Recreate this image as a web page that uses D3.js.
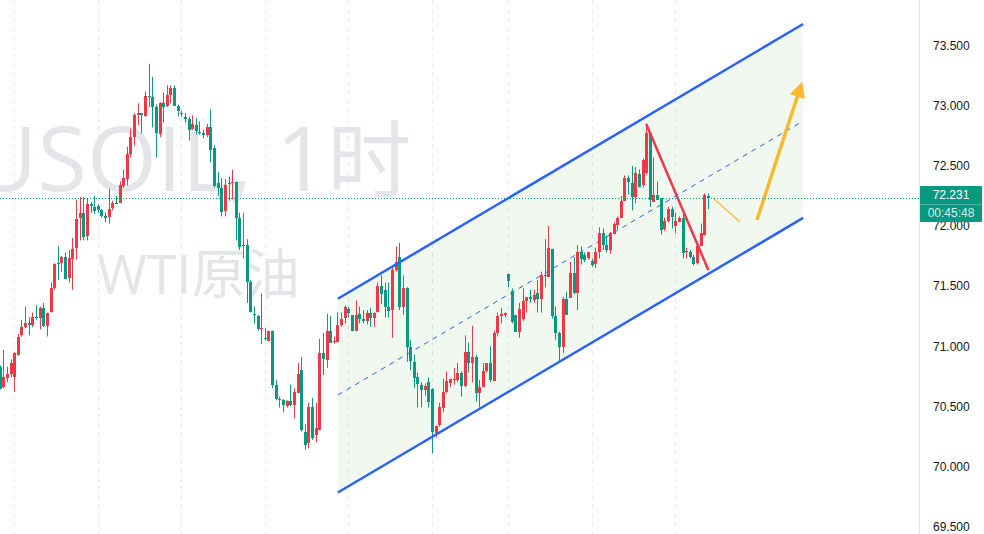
<!DOCTYPE html>
<html>
<head>
<meta charset="utf-8">
<script src="https://cdn.jsdelivr.net/npm/d3@7"></script>
<style>
  body { margin: 0; background: #fff; }
  svg { display: block; }
</style>
</head>
<body>
<script>
// USOIL 1h candles (red = up, green = down)
let opens = [
  70.83,70.66,70.74,70.77,70.74,70.93,71.09,71.16,71.19,71.17,
  71.24,71.24,71.32,71.17,71.28,71.48,71.69,71.69,71.74,71.56,
  71.73,71.82,72.07,72.11,71.91,72.18,72.16,72.17,72.13,72.08,
  72.07,72.15,72.19,72.19,72.33,72.39,72.60,72.74,72.92,72.94,
  72.91,73.08,73.07,72.99,72.76,73.02,73.00,73.09,73.15,73.00,
  72.94,72.91,72.89,72.81,72.84,72.78,72.77,72.75,72.82,72.65,
  72.36,72.32,72.12,72.35,72.36,72.37,72.07,71.83,71.84,71.53,
  71.27,71.25,71.14,71.07,71.05,71.13,70.68,70.56,70.55,70.50,
  70.54,70.51,70.61,70.80,70.29,70.19,70.49,70.26,70.30,70.94,
  70.89,71.13,71.03,71.04,71.18,71.24,71.31,71.26,71.13,71.27,
  71.23,71.21,71.28,71.24,71.28,71.50,71.47,71.33,71.30,71.63,
  71.74,71.32,71.48,70.99,70.87,70.74,70.68,70.64,70.70,70.64,
  70.28,70.34,70.49,70.62,70.70,70.72,70.72,70.78,70.67,70.95,
  70.86,70.91,70.61,70.66,70.79,70.86,70.71,71.11,71.25,71.26,
  71.60,71.46,71.26,71.12,71.23,71.38,71.41,71.39,71.44,71.39,
  71.58,71.58,71.81,71.25,71.11,70.99,71.39,71.40,71.61,71.44,
  71.78,71.76,71.73,71.71,71.68,71.78,71.94,71.84,71.80,71.94,
  72.01,72.07,72.21,72.40,72.36,72.24,72.43,72.34,72.44,72.77,
  72.20,72.26,72.23,71.97,72.04,72.14,72.00,72.04,72.07,71.78,
  71.78,71.74,71.69,71.83,71.93,72.25
];
let highs = [
  70.84,70.97,70.83,70.89,70.95,71.10,71.22,71.33,71.24,71.28,
  71.34,71.33,71.36,71.28,71.53,71.69,71.83,71.75,71.78,71.80,
  71.90,72.22,72.24,72.24,72.23,72.20,72.25,72.18,72.14,72.11,
  72.31,72.21,72.25,72.37,72.47,72.66,72.81,72.94,73.02,72.94,
  73.12,73.35,73.24,73.01,73.03,73.11,73.17,73.17,73.17,73.01,
  72.96,72.94,72.91,72.92,72.90,72.87,72.80,72.85,72.97,72.67,
  72.45,72.40,72.39,72.41,72.47,72.37,72.11,72.11,71.89,71.55,
  71.33,71.26,71.44,71.15,71.13,71.13,70.72,70.58,70.56,70.55,
  70.68,70.65,70.86,70.91,70.35,70.53,70.57,70.53,71.06,71.11,
  71.27,71.25,71.08,71.28,71.28,71.34,71.33,71.26,71.38,71.33,
  71.30,71.30,71.32,71.28,71.53,71.59,71.53,71.53,71.66,71.83,
  71.86,71.59,71.49,71.05,70.93,70.78,70.70,70.69,70.74,70.65,
  70.34,70.53,70.73,70.79,70.73,70.82,70.86,70.79,71.09,71.03,
  71.17,70.93,70.72,70.86,70.86,71.00,71.13,71.28,71.32,71.28,
  71.60,71.48,71.26,71.36,71.48,71.41,71.47,71.47,71.55,71.62,
  71.89,72.00,71.81,71.33,71.12,71.41,71.45,71.70,71.74,71.84,
  71.83,71.78,71.78,71.73,71.82,71.99,71.98,71.92,71.95,72.03,
  72.08,72.25,72.42,72.42,72.50,72.49,72.47,72.56,72.85,72.78,
  72.57,72.37,72.23,72.07,72.16,72.16,72.11,72.08,72.11,71.82,
  71.80,71.76,71.84,72.02,72.27,72.27
];
let lows = [
  70.64,70.65,70.70,70.74,70.62,70.92,71.08,71.15,71.09,71.16,
  71.22,71.14,71.16,71.08,71.28,71.47,71.55,71.62,71.56,71.53,
  71.47,71.72,71.88,71.88,71.88,72.11,72.10,72.11,72.07,72.03,
  72.02,72.13,72.18,72.19,72.32,72.34,72.57,72.67,72.84,72.77,
  72.91,72.99,72.82,72.57,72.74,72.86,72.99,73.02,73.00,72.91,
  72.91,72.86,72.71,72.80,72.76,72.76,72.73,72.74,72.53,72.32,
  72.25,72.08,72.08,72.21,72.22,71.88,71.80,71.73,71.36,71.28,
  71.19,71.13,71.02,71.05,71.04,70.65,70.55,70.49,70.45,70.49,
  70.50,70.40,70.61,70.29,70.14,70.15,70.22,70.20,70.30,70.76,
  70.82,71.03,71.02,71.03,71.16,71.19,71.24,71.13,71.13,71.19,
  71.19,71.18,71.16,71.16,71.28,71.35,71.24,71.24,71.07,71.62,
  71.30,71.26,70.87,70.80,70.65,70.49,70.49,70.59,70.49,70.11,
  70.24,70.33,70.45,70.61,70.66,70.68,70.70,70.58,70.66,70.78,
  70.70,70.54,70.49,70.66,70.78,70.70,70.71,71.08,71.19,71.24,
  71.49,71.19,71.12,71.07,71.21,71.28,71.36,71.36,71.28,71.28,
  71.49,71.58,71.23,71.05,70.87,70.94,71.26,71.40,71.43,71.30,
  71.68,71.70,71.72,71.66,71.65,71.73,71.80,71.78,71.77,71.93,
  71.97,72.07,72.21,72.26,72.13,72.19,72.32,72.32,72.43,72.16,
  72.20,72.22,71.93,71.96,72.03,71.98,71.94,72.03,71.73,71.73,
  71.73,71.67,71.68,71.83,71.92,72.14
];
let closes = [
  70.65,70.74,70.77,70.86,70.94,71.08,71.16,71.19,71.17,71.24,
  71.23,71.32,71.17,71.28,71.48,71.68,71.68,71.74,71.56,71.73,
  71.81,72.06,72.11,71.91,72.18,72.16,72.13,72.14,72.08,72.06,
  72.14,72.19,72.18,72.34,72.40,72.60,72.74,72.92,72.94,72.92,
  73.08,73.07,72.99,72.77,73.02,72.99,73.09,73.15,73.00,72.96,
  72.93,72.89,72.80,72.85,72.79,72.77,72.75,72.82,72.63,72.33,
  72.32,72.12,72.34,72.36,72.37,72.07,71.83,71.84,71.53,71.28,
  71.26,71.14,71.15,71.06,71.13,70.68,70.56,70.55,70.51,70.54,
  70.51,70.62,70.77,70.30,70.18,70.49,70.23,70.32,70.94,70.89,
  71.13,71.03,71.04,71.18,71.23,71.33,71.28,71.13,71.26,71.23,
  71.21,71.28,71.24,71.28,71.50,71.43,71.33,71.30,71.63,71.70,
  71.32,71.48,70.99,70.87,70.74,70.68,70.64,70.67,70.53,70.28,
  70.34,70.49,70.62,70.71,70.73,70.73,70.78,70.67,70.95,70.86,
  70.91,70.61,70.66,70.79,70.86,70.72,71.11,71.25,71.27,71.28,
  71.54,71.20,71.12,71.31,71.38,71.41,71.39,71.43,71.39,71.59,
  71.59,71.82,71.25,71.11,70.99,71.39,71.26,71.61,71.44,71.78,
  71.72,71.72,71.78,71.68,71.78,71.94,71.84,71.80,71.94,72.02,
  72.07,72.21,72.40,72.37,72.24,72.44,72.32,72.55,72.77,72.21,
  72.26,72.22,71.96,72.04,72.14,72.07,72.04,72.07,71.78,71.79,
  71.74,71.68,71.83,71.94,72.26,72.231
];

let yTicks = [69.5, 70, 70.5, 71, 71.5, 72, 72.5, 73, 73.5];
let gridBars = [4, 27, 50, 73, 96, 119, 140, 163, 186];

// drawings, as [bar, price]
let channelUpper = [[93.1, 71.395], [221.2, 73.68]];
let channelLower = [[93.1, 69.783], [221.2, 72.067]];
let channelMid = [[93.1, 70.594], [221.2, 72.873]];
let redTrend = [[178, 72.849], [195.1, 71.634]];
let smallArrow = [[196.4, 72.233], [203.8, 72.033]];
let bigArrow = [[208.5, 72.05], [220.4, 73.15]];

let countdown = "00:45:48";

let width = 984;
let height = 534;
let paneW = 919;

let green = "#089981";
let red = "#f23645";
let blue = "#2962ff";

let x = d3.scaleLinear().domain([0.083, 253.1]).range([0, paneW]);
let y = d3.scaleLinear().domain([69.4376, 73.88]).range([height, 0]);

let candles = d3.range(opens.length).map(function(i) {
    return {i: i, o: opens[i], h: highs[i], l: lows[i], c: closes[i]};
});

let svg = d3.select("body")
    .append("svg")
    .attr("width", width)
    .attr("height", height);

let defs = svg.append("defs");
defs.append("clipPath").attr("id", "pane")
    .append("rect").attr("width", paneW).attr("height", height);
defs.append("marker")
    .attr("id", "head")
    .attr("viewBox", "0 0 10 10")
    .attr("refX", 6).attr("refY", 5)
    .attr("markerWidth", 4.5).attr("markerHeight", 4.5)
    .attr("orient", "auto")
    .append("path").attr("d", "M0,0L10,5L0,10Z").attr("fill", "#f9b92e");

let pane = svg.append("g").attr("clip-path", "url(#pane)");

//grid

pane.selectAll(".vgrid")
    .data(gridBars)
    .enter()
    .append("line")
    .attr("x1", d => Math.round(x(d)) + 0.5)
    .attr("x2", d => Math.round(x(d)) + 0.5)
    .attr("y1", 0)
    .attr("y2", height)
    .attr("stroke", "#e8eaee")
    .attr("stroke-dasharray", "5,4");

//watermark

let mark = pane.append("text")
    .attr("x", -28).attr("y", 191)
    .attr("font-family", "'Open Sans', 'Noto Sans', 'Noto Sans CJK SC', sans-serif")
    .attr("font-size", 90)
    .attr("fill", "#e4e5e8");
mark.append("tspan").text("USOIL, 1");
mark.append("tspan").attr("font-size", 84).attr("dx", 0).text("时");

pane.append("text")
    .attr("x", 97).attr("y", 294)
    .attr("text-anchor", "start")
    .attr("font-family", "'Open Sans', 'Noto Sans', 'Noto Sans CJK SC', sans-serif")
    .attr("font-size", 54)
    .attr("fill", "#e4e5e8")
    .text("WTI原油");

//channel

let pt = d => [x(d[0]), y(d[1])];
let band = channelUpper.map(pt).concat(channelLower.slice().reverse().map(pt));

pane.append("path")
    .attr("d", d3.line()(band) + "Z")
    .attr("fill", "rgba(76,175,80,0.085)");

pane.append("path")
    .attr("d", d3.line()(channelMid.map(pt)))
    .attr("stroke", blue)
    .attr("stroke-width", 1)
    .attr("stroke-dasharray", "5,5")
    .attr("fill", "none");

//candles

let cx = d => Math.round(x(d.i));
let col = d => d.c >= d.o ? red : green;

pane.selectAll(".wick")
    .data(candles)
    .enter()
    .append("line")
    .attr("x1", d => cx(d) + 0.5)
    .attr("x2", d => cx(d) + 0.5)
    .attr("y1", d => y(d.h))
    .attr("y2", d => y(d.l))
    .attr("stroke", col)
    .attr("stroke-width", 1);

pane.selectAll(".body")
    .data(candles)
    .enter()
    .append("rect")
    .attr("x", d => cx(d) - 1)
    .attr("width", 3)
    .attr("y", d => Math.round(y(Math.max(d.o, d.c))))
    .attr("height", d => Math.max(1, Math.round(Math.abs(y(d.o) - y(d.c)))))
    .attr("fill", col)
    .attr("shape-rendering", "crispEdges");

//channel borders

[channelUpper, channelLower].forEach(function(seg) {
    pane.append("path")
        .attr("d", d3.line()(seg.map(pt)))
        .attr("stroke", blue)
        .attr("stroke-width", 2.5)
        .attr("fill", "none");
});

//red trend line

pane.append("path")
    .attr("d", d3.line()(redTrend.map(pt)))
    .attr("stroke", red)
    .attr("stroke-width", 2.5)
    .attr("fill", "none");

//arrows

pane.append("path")
    .attr("d", d3.line()(smallArrow.map(pt)))
    .attr("stroke", "#f9b92e")
    .attr("stroke-width", 1.2)
    .attr("fill", "none");

pane.append("path")
    .attr("d", d3.line()(bigArrow.map(pt)))
    .attr("stroke", "#f9b92e")
    .attr("stroke-width", 3.5)
    .attr("fill", "none")
    .attr("marker-end", "url(#head)");

//last price line

let last = closes[closes.length - 1];

pane.append("line")
    .attr("x1", 0).attr("x2", paneW)
    .attr("y1", Math.round(y(last)) + 0.5)
    .attr("y2", Math.round(y(last)) + 0.5)
    .attr("stroke", green)
    .attr("stroke-dasharray", "1,2");

//price axis

svg.append("line")
    .attr("x1", paneW + 0.5).attr("x2", paneW + 0.5)
    .attr("y1", 0).attr("y2", height)
    .attr("stroke", "#e0e3eb");

let axis = svg.append("g")
    .attr("transform", "translate(" + paneW + ",0)")
    .call(d3.axisRight(y).tickValues(yTicks).tickFormat(d3.format(".3f")).tickSize(0).tickPadding(14));

axis.select(".domain").remove();
axis.selectAll("text")
    .attr("font-family", "'Liberation Sans', Arial, sans-serif")
    .attr("font-size", 12)
    .attr("fill", "#131722");

//last price label

let ly = Math.round(y(last));
let tag = svg.append("g").attr("transform", "translate(" + (paneW + 1) + "," + (ly - 12) + ")");

tag.append("rect")
    .attr("width", 62)
    .attr("height", 36)
    .attr("rx", 1)
    .attr("fill", green);

tag.append("line")
    .attr("x1", 0).attr("x2", 62)
    .attr("y1", 18.5).attr("y2", 18.5)
    .attr("stroke", "rgba(255,255,255,0.25)");

tag.append("text")
    .attr("x", 31).attr("y", 9)
    .attr("dy", "0.35em")
    .attr("text-anchor", "middle")
    .attr("font-family", "'Liberation Sans', Arial, sans-serif")
    .attr("font-size", 12)
    .attr("fill", "#fff")
    .text(d3.format(".3f")(last));

tag.append("text")
    .attr("x", 31).attr("y", 27)
    .attr("dy", "0.35em")
    .attr("text-anchor", "middle")
    .attr("font-family", "'Liberation Sans', Arial, sans-serif")
    .attr("font-size", 12)
    .attr("fill", "rgba(255,255,255,0.85)")
    .text(countdown);
</script>
</body>
</html>
